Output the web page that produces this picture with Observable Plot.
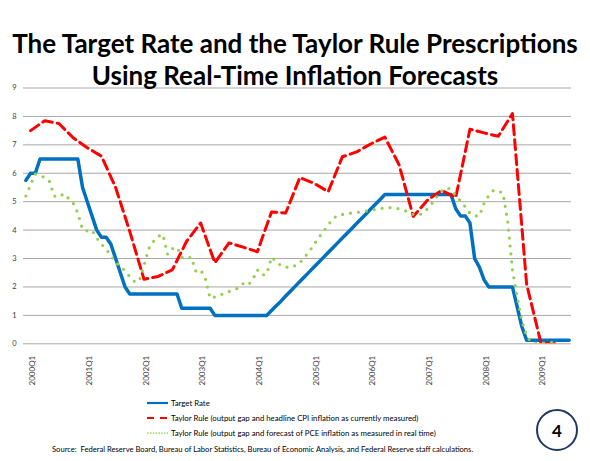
<!DOCTYPE html>
<html><head><meta charset="utf-8">
<script src="https://cdn.jsdelivr.net/npm/d3@7"></script>
<script src="https://cdn.jsdelivr.net/npm/@observablehq/plot@0.6"></script>
<style>
html,body{margin:0;padding:0;background:#fff;}
#wrap{position:relative;width:590px;height:461px;overflow:hidden;font-family:Lato,"Open Sans",sans-serif;color:#000;background:#fff;}
#title{position:absolute;left:0;top:27px;width:590px;text-align:center;font-weight:700;font-size:26px;line-height:32px;z-index:2;}
#chart{position:absolute;left:0;top:80px;z-index:1;}
#legend{position:absolute;left:147px;top:395.5px;font-size:7.8px;}
.row{height:15px;display:flex;align-items:center;white-space:nowrap;}
.row svg{margin-right:3px;}
#source{position:absolute;left:52px;top:444px;font-size:7.6px;white-space:nowrap;}
#badge{position:absolute;left:536px;top:409px;width:38px;height:38px;border:2px solid #1f3864;border-radius:50%;display:flex;align-items:center;justify-content:center;font-weight:700;font-size:17px;}
</style></head>
<body><div id="wrap">
<div id="title">The Target Rate and the Taylor Rule Prescriptions<br>Using Real-Time Inflation Forecasts</div>
<div id="chart"></div>
<div id="legend">
 <div class="row"><svg width="21" height="6"><line x1="0" y1="3" x2="21" y2="3" stroke="#0070C0" stroke-width="2.2"/></svg><span>Target Rate</span></div>
 <div class="row"><svg width="21" height="6"><line x1="0" y1="3" x2="21" y2="3" stroke="#FF0000" stroke-width="2.2" stroke-dasharray="7,6"/></svg><span>Taylor Rule (output gap and headline CPI inflation as currently measured)</span></div>
 <div class="row"><svg width="21" height="6"><line x1="1" y1="3" x2="21" y2="3" stroke="#92D050" stroke-width="1.7" stroke-linecap="round" stroke-dasharray="0,2.8"/></svg><span>Taylor Rule (output gap and forecast of PCE inflation as measured in real time)</span></div>
</div>
<div id="source">Source:&nbsp; Federal Reserve Board, Bureau of Labor Statistics, Bureau of Economic Analysis, and Federal Reserve staff calculations.</div>
<div id="badge">4</div>
</div>
<script>
// Target rate, monthly, Feb 2000 .. Sep 2009 (month index 1 = Feb 2000)
const targetRate = [
 5.75,6.0,6.0,6.5,6.5,6.5,6.5,6.5,6.5,6.5,6.5,            // Feb00-Dec00
 6.5,5.5,5.0,4.5,4.0,3.75,3.75,3.5,3.0,2.5,2.0,1.75,      // 2001
 1.75,1.75,1.75,1.75,1.75,1.75,1.75,1.75,1.75,1.75,1.25,1.25, // 2002
 1.25,1.25,1.25,1.25,1.25,1.0,1.0,1.0,1.0,1.0,1.0,1.0,    // 2003
 1.0,1.0,1.0,1.0,1.0,1.17,1.34,1.5,1.68,1.85,2.02,2.19,   // 2004
 2.36,2.53,2.7,2.87,3.04,3.21,3.38,3.55,3.72,3.89,4.06,4.23, // 2005
 4.4,4.57,4.74,4.91,5.08,5.25,5.25,5.25,5.25,5.25,5.25,5.25, // 2006
 5.25,5.25,5.25,5.25,5.25,5.25,5.25,5.25,4.75,4.5,4.5,4.25,// 2007
 3.0,2.7,2.25,2.0,2.0,2.0,2.0,2.0,2.0,1.3,0.6,0.125,      // 2008
 0.125,0.125,0.125,0.125,0.125,0.125,0.125,0.125,0.125    // Jan09-Sep09
];
// Taylor rule, headline CPI, quarterly 2000Q1 .. 2009Q2 (plotted at quarter-end month)
const taylorCPI = [
 7.5,7.85,7.75,7.25, 6.9,6.6,5.5,3.95, 2.27,2.37,2.6,3.6, 4.25,2.85,3.55,3.4,
 3.24,4.64,4.6,5.85, 5.65,5.35,6.58,6.75, 7.03,7.27,6.3,4.48, 5.05,5.4,5.15,7.55,
 7.42,7.3,8.1,2.1, 0.05,0.0
];
// Taylor rule, real-time PCE forecast, monthly Feb 2000 .. Jun 2009
const taylorPCE = [
 5.2,5.6,5.97,5.92,5.85,5.71,5.2,5.16,5.28,5.12,4.95,
 4.6,4.02,3.97,4.0,3.72,3.51,3.32,3.12,2.85,2.74,2.56,2.36,
 2.19,2.2,2.75,3.35,3.6,3.78,3.85,3.15,3.35,3.4,3.05,3.0,
 3.05,2.55,2.6,2.3,1.6,1.65,1.7,1.78,1.84,1.9,1.96,2.12,
 2.06,2.25,2.6,2.42,2.45,3.05,2.9,2.75,2.7,2.68,2.75,2.85,
 3.05,3.25,3.5,3.74,3.95,4.18,4.4,4.52,4.55,4.58,4.6,4.62,
 4.64,4.67,4.7,4.73,4.76,4.78,4.79,4.78,4.75,4.7,4.64,4.55,
 4.53,4.58,4.75,4.95,5.18,5.38,5.49,5.44,5.2,5.03,4.82,4.6,
 4.5,4.5,4.95,5.22,5.4,5.38,5.3,4.3,2.6,1.65,0.8,0.28,
 0.05,0.02,0.02,0.03,0.04,0.08
];
const yTicks = [0,1,2,3,4,5,6,7,8,9];
const xTickLabels = ["2000Q1","2001Q1","2002Q1","2003Q1","2004Q1","2005Q1","2006Q1","2007Q1","2008Q1","2009Q1"];
const xTickMonths = [2,14,26,38,50,62,74,86,98,110];

const target = targetRate.map((v,i)=>({m:i+1, v}));
const cpi = taylorCPI.map((v,i)=>({m:2+3*i, v}));
const pce = taylorPCE.map((v,i)=>({m:i+1, v}));
const ticks = xTickLabels.map((t,i)=>({t, m:xTickMonths[i]}));

const chart = Plot.plot({
  width: 590, height: 310,
  marginLeft: 23, marginRight: 19, marginTop: 7.5, marginBottom: 46.7,
  style: {fontFamily: "Lato, 'Open Sans', sans-serif", fontSize: "7.5px", color: "#404040", background: "transparent"},
  x: {domain: [0.5, 116.5], axis: null},
  y: {domain: [0, 9], ticks: yTicks, tickSize: 0, tickPadding: 7, label: null, tickFormat: d3.format("d")},
  marks: [
    Plot.ruleY(yTicks, {stroke: "#a8a8a8", strokeWidth: 1}),
    Plot.text(ticks, {x: "m", y: () => 0, text: "t", rotate: -90, textAnchor: "end", dy: 12, dx: 2, fontSize: 8, fill: "#404040"}),
    Plot.line(target, {x: "m", y: "v", stroke: "#0070C0", strokeWidth: 3.5, clip: true}),
    Plot.line(cpi, {x: "m", y: "v", stroke: "#FF0000", strokeWidth: 3, strokeDasharray: "10,5", clip: true}),
    Plot.line(pce, {x: "m", y: "v", stroke: "#92D050", strokeWidth: 3.2, strokeDasharray: "0,8", strokeLinecap: "round", clip: true})
  ]
});
document.getElementById("chart").appendChild(chart);
</script>
</body></html>
